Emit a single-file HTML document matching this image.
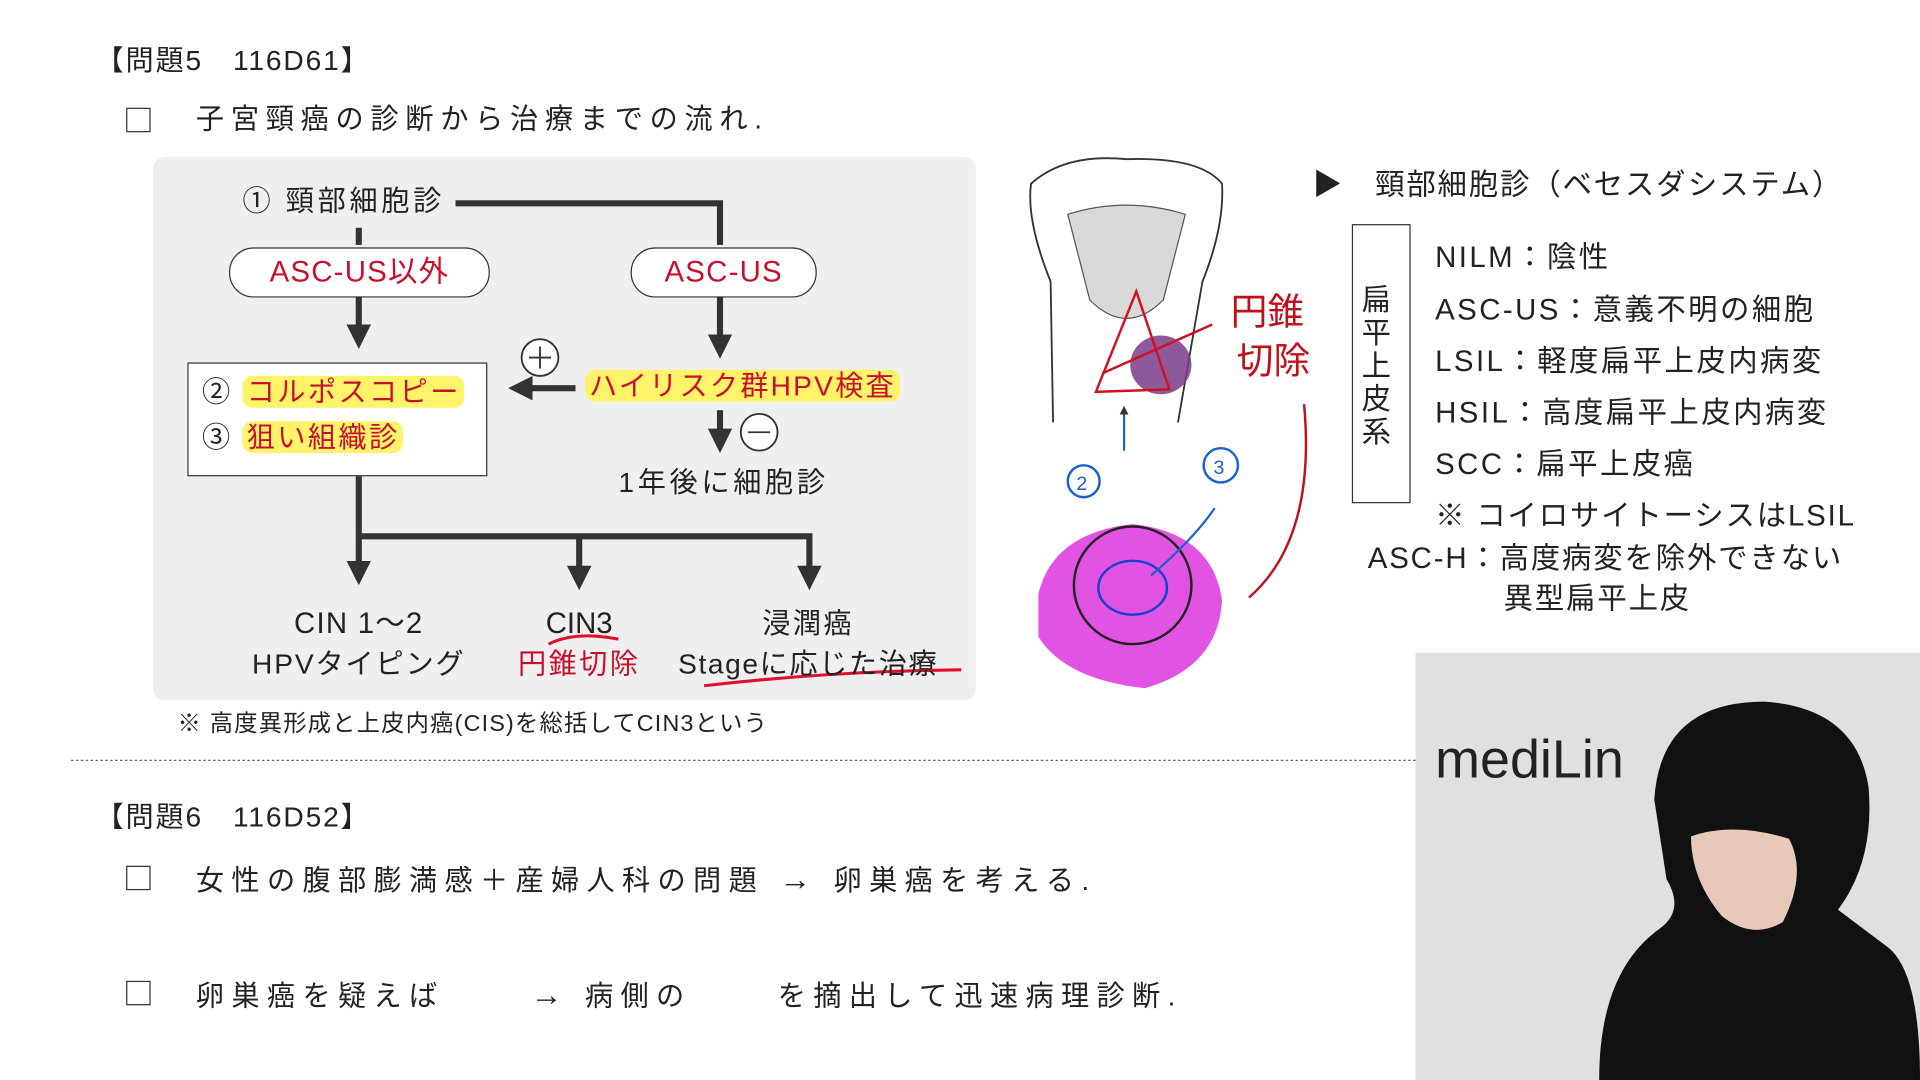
<!DOCTYPE html>
<html><head><meta charset="utf-8">
<style>
html,body{margin:0;padding:0;width:1920px;height:1080px;overflow:hidden;background:#fff}
#w{position:absolute;left:0;top:0;width:1568px;height:882px;transform:scale(1.22449);transform-origin:0 0;font-family:"Liberation Sans","Noto Sans CJK JP",sans-serif;color:#222}
.t{position:absolute;white-space:nowrap;line-height:1}
.cb{position:absolute;width:18px;height:18px;border:1.5px solid #333;background:#fff}
.hl{background:#fff36a;border-radius:8px;padding:0 3px}
.red{color:#c8102e}
.p{letter-spacing:3px}
.r{letter-spacing:2px}
</style></head><body><div id="w">
<div class="t" style="left:78px;top:38px;font-size:23px;letter-spacing:1.5px">【問題5　116D61】</div>
<div class="cb" style="left:103px;top:88px"></div>
<div class="t" style="left:160px;top:86px;font-size:23px;letter-spacing:5.5px">子宮頸癌の診断から治療までの流れ.</div>

<div style="position:absolute;left:125px;top:128px;width:672px;height:444px;background:#efefef;border-radius:10px"></div>
<svg style="position:absolute;left:0;top:0" width="1568" height="882">
<defs><marker id="a" markerWidth="4" markerHeight="4" refX="2" refY="2" orient="auto" markerUnits="strokeWidth"><path d="M0,0 L4,2 L0,4 z" fill="#333"/></marker></defs>
<g stroke="#333" stroke-width="5" fill="none">
<path d="M372,166 H588 V200"/>
<path d="M293,186 V200"/>
<path d="M293,243 V275" marker-end="url(#a)"/>
<path d="M588,243 V283" marker-end="url(#a)"/>
<path d="M470,317 H425" marker-end="url(#a)"/>
<path d="M588,335 V360" marker-end="url(#a)"/>
<path d="M293,388 V468" marker-end="url(#a)"/>
<path d="M293,438 H661 V472" marker-end="url(#a)"/>
<path d="M473,438 V472" marker-end="url(#a)"/>
</g>
<circle cx="441" cy="292" r="15" fill="#fff" stroke="#333" stroke-width="1.5"/>
<path d="M432,292H450M441,283V301" stroke="#333" stroke-width="1.5"/>
<circle cx="620" cy="353" r="15" fill="#fff" stroke="#333" stroke-width="1.5"/>
<path d="M611,353H629" stroke="#333" stroke-width="1.5"/>
<path d="M448,526 Q470,515 505,522" stroke="#e0102a" stroke-width="2.5" fill="none"/>
<path d="M575,560 Q680,548 785,547" stroke="#e0102a" stroke-width="2.5" fill="none"/>
<path d="M860,345 L858,230 Q838,180 842,150 Q870,125 920,130 Q980,128 998,150 Q1000,185 982,230 L962,345" fill="#fff" stroke="#333" stroke-width="1.5"/>
<path d="M872,175 Q920,160 968,175 L950,245 Q920,275 890,245 Z" fill="#d9d9d9" stroke="#555"/>
<ellipse cx="948" cy="298" rx="25" ry="24" fill="#7a3c8a" opacity="0.85"/>
<path d="M895,320 L928,238 L955,318 Z M900,305 L990,265" stroke="#d01020" stroke-width="2" fill="none"/>
<path d="M918,368 V335" stroke="#1a60d0" stroke-width="1.8" marker-end="url(#a)"/>
<path d="M1065,330 Q1075,440 1020,488" stroke="#c0101c" stroke-width="2" fill="none"/>
<text x="1005" y="265" font-size="30" fill="#c0101c" font-family="Noto Sans CJK JP">円錐</text>
<text x="1010" y="305" font-size="30" fill="#c0101c" font-family="Noto Sans CJK JP">切除</text>
<circle cx="885" cy="393" r="13" fill="none" stroke="#1a60d0" stroke-width="2"/>
<text x="879" y="400" font-size="16" fill="#1a60d0">2</text>
<circle cx="997" cy="380" r="14" fill="none" stroke="#1a60d0" stroke-width="2"/>
<text x="991" y="387" font-size="16" fill="#1a60d0">3</text>
<path d="M848,485 Q860,435 925,428 Q990,435 998,490 Q995,545 935,562 Q870,555 848,520 Z" fill="#e040e0" opacity="0.9"/>
<circle cx="925" cy="478" r="48" fill="none" stroke="#222" stroke-width="2"/>
<ellipse cx="925" cy="480" rx="28" ry="22" fill="none" stroke="#1a40d0" stroke-width="2"/>
<path d="M940,470 Q975,440 992,415" stroke="#1a60d0" stroke-width="1.8" fill="none"/>
<line x1="58" y1="621" x2="1156" y2="621" stroke="#666" stroke-width="1" stroke-dasharray="2,2"/>
</svg>

<div class="t p" style="left:198px;top:153px;font-size:23px">① 頸部細胞診</div>
<div class="t red" style="left:187px;top:202px;width:211px;height:39px;border:1.5px solid #333;border-radius:20px;background:#fff;font-size:24px;text-align:center;line-height:39px;letter-spacing:1px">ASC-US以外</div>
<div class="t red" style="left:515px;top:202px;width:150px;height:39px;border:1.5px solid #333;border-radius:20px;background:#fff;font-size:24px;text-align:center;line-height:39px;letter-spacing:1px">ASC-US</div>
<div style="position:absolute;left:153px;top:296px;width:243px;height:91px;border:1.5px solid #333;background:#fff"></div>
<div class="t r" style="left:165px;top:309px;font-size:23px">② <span class="hl red">コルポスコピー</span></div>
<div class="t r" style="left:165px;top:346px;font-size:23px">③ <span class="hl red">狙い組織診</span></div>
<div class="t red" style="left:478px;top:304px;font-size:23px;letter-spacing:1.8px"><span class="hl">ハイリスク群HPV検査</span></div>
<div class="t p" style="left:505px;top:383px;font-size:23px">1年後に細胞診</div>
<div class="t" style="left:193px;top:498px;width:200px;text-align:center;font-size:24px;letter-spacing:1px">CIN 1～2</div>
<div class="t" style="left:193px;top:531px;width:200px;text-align:center;font-size:23px;letter-spacing:1.5px">HPVタイピング</div>
<div class="t" style="left:413px;top:498px;width:120px;text-align:center;font-size:24px">CIN3</div>
<div class="t red" style="left:413px;top:531px;width:120px;text-align:center;font-size:23px;letter-spacing:2px">円錐切除</div>
<div class="t" style="left:560px;top:498px;width:200px;text-align:center;font-size:23px;letter-spacing:2px">浸潤癌</div>
<div class="t" style="left:540px;top:531px;width:240px;text-align:center;font-size:23px;letter-spacing:1.3px">Stageに応じた治療</div>
<div class="t" style="left:145px;top:582px;font-size:19px;letter-spacing:1px">※ 高度異形成と上皮内癌(CIS)を総括してCIN3という</div>

<div class="t" style="left:78px;top:656px;font-size:23px;letter-spacing:1.5px">【問題6　116D52】</div>
<div class="cb" style="left:103px;top:707px"></div>
<div class="t" style="left:160px;top:705px;font-size:23px;letter-spacing:6px">女性の腹部膨満感＋産婦人科の問題 <span style="font-size:26px">→</span> 卵巣癌を考える.</div>
<div class="cb" style="left:103px;top:801px"></div>
<div class="t" style="left:160px;top:799px;font-size:23px;letter-spacing:6px">卵巣癌を疑えば　　 <span style="font-size:26px">→</span> 病側の　　 を摘出して迅速病理診断.</div>

<div class="t" style="left:1072px;top:140px;font-size:24px;letter-spacing:1.5px">▶　頸部細胞診（ベセスダシステム）</div>
<div style="position:absolute;left:1104px;top:183px;width:46px;height:226px;border:1.5px solid #333"></div>
<div class="t" style="left:1112px;top:232px;font-size:24px;width:30px;white-space:normal;line-height:27px">扁平上皮系</div>
<div class="t" style="left:1172px;top:199px;font-size:24px;letter-spacing:2px">NILM：陰性</div>
<div class="t" style="left:1172px;top:242px;font-size:24px;letter-spacing:2px">ASC-US：意義不明の細胞</div>
<div class="t" style="left:1172px;top:284px;font-size:24px;letter-spacing:2px">LSIL：軽度扁平上皮内病変</div>
<div class="t" style="left:1172px;top:326px;font-size:24px;letter-spacing:2px">HSIL：高度扁平上皮内病変</div>
<div class="t" style="left:1172px;top:368px;font-size:24px;letter-spacing:2px">SCC：扁平上皮癌</div>
<div class="t" style="left:1172px;top:410px;font-size:24px;letter-spacing:1.5px">※ コイロサイトーシスはLSIL</div>
<div class="t" style="left:1117px;top:445px;font-size:24px;letter-spacing:1.5px">ASC-H：高度病変を除外できない</div>
<div class="t" style="left:1228px;top:478px;font-size:24px;letter-spacing:1.5px">異型扁平上皮</div>

<div style="position:absolute;left:1156px;top:533px;width:412px;height:349px;background:#e0e0e0;overflow:hidden">
<div class="t" style="left:16px;top:66px;font-size:44px;color:#222">mediLin</div>
<svg style="position:absolute;left:0;top:0" width="412" height="349">
<path d="M195,120 Q200,40 285,40 Q360,45 370,110 Q375,170 345,210 L385,240 Q412,260 412,349 L150,349 Q150,260 200,225 Q220,210 205,185 Z" fill="#111"/>
<path d="M225,150 Q260,138 305,152 Q320,180 300,220 Q275,235 250,215 Q225,185 225,150 Z" fill="#e8c8b8"/>
</svg>
</div>
</div></body></html>
